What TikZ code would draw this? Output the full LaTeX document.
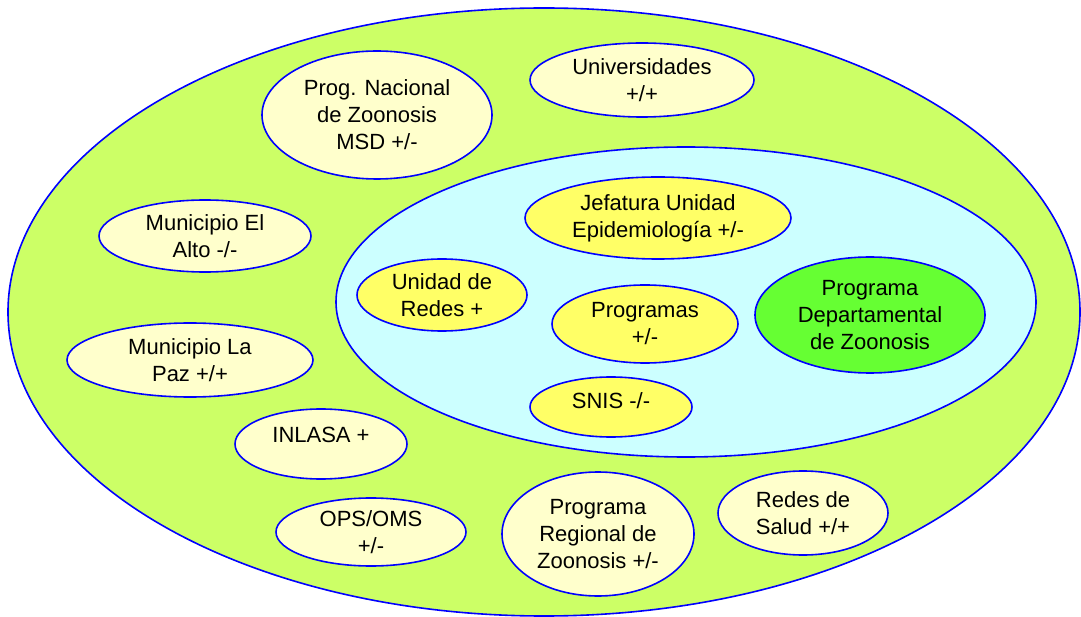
\documentclass[tikz,border=0pt]{standalone}
\usepackage{fontspec}
\setmainfont{Liberation Sans}
\usetikzlibrary{shapes.geometric}
\definecolor{outergreen}{HTML}{CCFF66}
\definecolor{innercyan}{HTML}{CCFFFF}
\definecolor{paleyellow}{HTML}{FFFFCC}
\definecolor{brightyellow}{HTML}{FFFF66}
\definecolor{brightgreen}{HTML}{66FF33}
\definecolor{edgeblue}{HTML}{0000FF}
\tikzset{
  ell/.style={ellipse, draw=edgeblue, line width=1.6pt, inner sep=0pt,
    align=center, font=\fontsize{22}{27}\selectfont, text=black},
  sz/.style 2 args={minimum width=#1pt, minimum height=#2pt},
  outer/.style={ell, fill=paleyellow},
  inner/.style={ell, fill=brightyellow},
  focal/.style={ell, fill=brightgreen},
}
\begin{document}
\begin{tikzpicture}[x=1pt,y=-1pt]
\useasboundingbox (0,0) rectangle (1081,617);
% rings
\node[ell, fill=outergreen, sz={1072}{608}] (ring1) at (544,312) {};
\node[ell, fill=innercyan, sz={700}{310}] (ring2) at (686,302) {};
% outer ring actors
\node[outer, sz={230}{128}] (nacional) at (377,115) {Prog. Nacional\\de Zoonosis\\MSD +/-};
\node[outer, sz={224}{74}] (univ) at (642,80) {Universidades\\+/+};
\node[outer, sz={212}{72}] (elalto) at (205,236) {Municipio El\\Alto -/-};
\node[outer, sz={246}{74}] (lapaz) at (190,360) {Municipio La\\Paz +/+};
\node[outer, sz={172}{70}, text height=16pt, text depth=20pt] (inlasa) at (321,444) {INLASA +};
\node[outer, sz={190}{68}] (ops) at (371,532) {OPS/OMS\\+/-};
\node[outer, sz={192}{124}] (regional) at (598,534) {Programa\\Regional de\\Zoonosis +/-};
\node[outer, sz={170}{84}] (redes) at (803,513) {Redes de\\Salud +/+};
% inner ring actors
\node[inner, sz={266}{82}] (jefatura) at (658,218) {Jefatura Unidad\\Epidemiología +/-};
\node[inner, sz={170}{72}] (unidad) at (442,295) {Unidad de\\Redes +};
\node[inner, sz={186}{78}] (programas) at (645,324) {Programas\\+/-};
\node[inner, sz={162}{60}, text height=16pt, text depth=13pt] (snis) at (611,407) {SNIS -/-};
\node[focal, sz={230}{116}] (depto) at (870,315) {Programa\\Departamental\\de Zoonosis};
\end{tikzpicture}
\end{document}
